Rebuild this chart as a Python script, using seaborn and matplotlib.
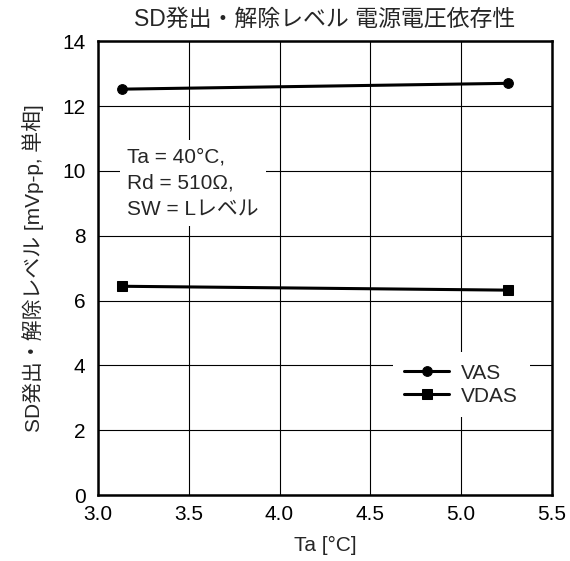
import matplotlib
matplotlib.use("Agg")
import matplotlib.pyplot as plt
import seaborn as sns
import pandas as pd

title = "SD発出・解除レベル 電源電圧依存性"
x_label = "Ta [°C]"
y_label = "SD発出・解除レベル [mVp-p, 単相]"
series_names = ["VAS", "VDAS"]
x_values = [3.13, 5.26]
vas_values = [12.52, 12.70]
vdas_values = [6.44, 6.32]
x_ticks = [3.0, 3.5, 4.0, 4.5, 5.0, 5.5]
y_ticks = [0, 2, 4, 6, 8, 10, 12, 14]
note = "Ta = 40°C,\nRd = 510Ω,\nSW = Lレベル"

sns.set_theme(style="white")
plt.rcParams['font.family'] = ['Liberation Sans', 'Noto Sans CJK JP']

df = pd.DataFrame({
    "x": x_values * 2,
    "y": vas_values + vdas_values,
    "series": [series_names[0]] * 2 + [series_names[1]] * 2,
})

fig = plt.figure(figsize=(5.7, 5.61), dpi=100)
ax = fig.add_axes([0.172, 0.1176, 0.796, 0.809])

sns.lineplot(data=df, x="x", y="y", hue="series", style="series",
             markers={"VAS": "o", "VDAS": "s"}, dashes=False,
             palette={"VAS": "black", "VDAS": "black"},
             markersize=7, linewidth=2.2, ax=ax, zorder=3,
             markeredgecolor="black")

ax.set_xlim(3.0, 5.5)
ax.set_ylim(0, 14)
ax.set_xticks(x_ticks)
ax.set_xticklabels([f"{t:.1f}" for t in x_ticks])
ax.set_yticks(y_ticks)
ax.tick_params(axis="both", length=0, labelsize=15, colors="black")
ax.tick_params(axis="x", pad=7)
ax.tick_params(axis="y", pad=9)
ax.grid(True, color="black", linewidth=0.8)
for s in ax.spines.values():
    s.set_visible(True)
    s.set_color("black")
    s.set_linewidth(1.8)
    s.set_zorder(5)

ax.set_title(title, fontsize=16.5, pad=11)
ax.set_xlabel(x_label, fontsize=15, labelpad=9)
ax.set_ylabel(y_label, fontsize=15, labelpad=13)

ax.text(3.16, 9.62, note, fontsize=15, linespacing=1.5, va="center", ha="left",
        zorder=4, bbox=dict(facecolor="white", edgecolor="none", pad=5))

leg = ax.legend(loc="upper left", bbox_to_anchor=(4.624, 4.41), bbox_transform=ax.transData,
                borderaxespad=0, frameon=True, fontsize=15, handlelength=2.16,
                handletextpad=0.58, labelspacing=0.2, borderpad=0.55)
leg.set_title(None)
leg.get_frame().set_facecolor("white")
leg.get_frame().set_edgecolor("none")
leg.get_frame().set_alpha(1)
leg.get_frame().set_boxstyle("square", pad=0)
leg.set_zorder(6)

fig.savefig("out.png", dpi=100)
